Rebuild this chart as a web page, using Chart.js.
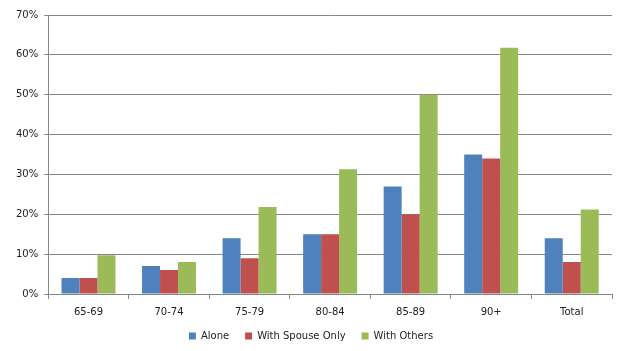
<!DOCTYPE html>
<html>
<head>
<meta charset="utf-8">
<script src="https://cdn.jsdelivr.net/npm/chart.js@4"></script>
<style>
  html, body { margin: 0; padding: 0; background: #fff; }
  #wrap { width: 623px; height: 351px; }
</style>
</head>
<body>
<div id="wrap"><canvas id="livingChart"></canvas></div>
<script>
const ageGroups = ['65-69', '70-74', '75-79', '80-84', '85-89', '90+', 'Total'];
const alone = [4, 7, 14, 15, 27, 35, 14];
const spouseOnly = [4, 6, 9, 15, 20, 34, 8];
const withOthers = [9.7, 8, 21.8, 31.3, 50, 61.8, 21.2];

Chart.defaults.font.family = 'DejaVu Sans';
Chart.defaults.font.size = 10;
Chart.defaults.color = '#222';

new Chart(document.getElementById('livingChart'), {
    type: 'bar',
    data: {
        labels: ageGroups,
        datasets: [
            { label: 'Alone', data: alone, backgroundColor: '#4f81bd' },
            { label: 'With Spouse Only', data: spouseOnly, backgroundColor: '#c0504d' },
            { label: 'With Others', data: withOthers, backgroundColor: '#9bbb59' }
        ]
    },
    options: {
        responsive: true,
        maintainAspectRatio: false,
        animation: false,
        layout: { padding: { top: 15, right: 11, left: 10, bottom: 0 } },
        datasets: { bar: { categoryPercentage: 0.67, barPercentage: 1 } },
        plugins: {
            legend: {
                position: 'bottom',
                labels: { boxWidth: 7, boxHeight: 7, padding: 16 }
            },
            tooltip: { enabled: false }
        },
        scales: {
            x: {
                grid: { drawOnChartArea: false, color: '#868686', tickLength: 5 },
                border: { color: '#868686' },
                ticks: { padding: 7 },
                afterFit: scale => { scale.height -= 10; }
            },
            y: {
                min: 0,
                max: 70,
                ticks: { stepSize: 10, callback: v => v + '%', padding: 6 },
                grid: { color: '#868686', tickLength: 4 },
                border: { color: '#868686' }
            }
        }
    }
});
</script>
</body>
</html>
